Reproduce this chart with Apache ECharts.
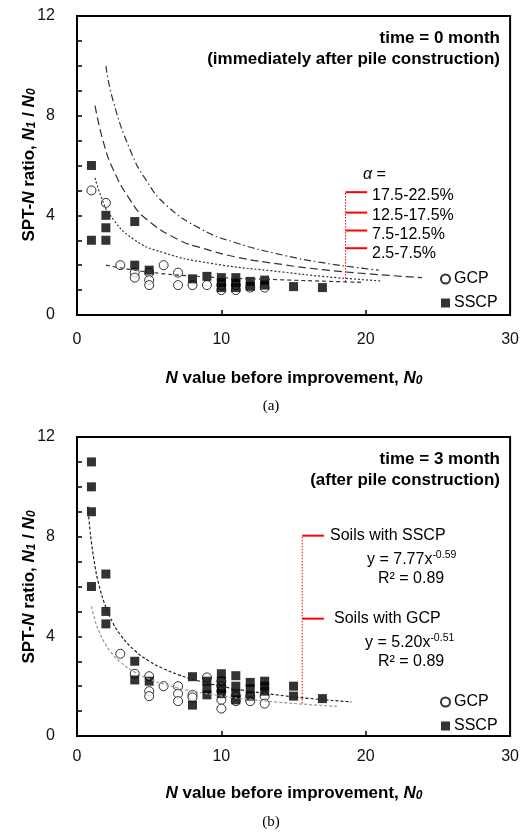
<!DOCTYPE html>
<html>
<head>
<meta charset="utf-8">
<script src="https://cdn.jsdelivr.net/npm/echarts@6/dist/echarts.min.js"></script>
<style>
  html, body { margin: 0; padding: 0; background: #fff; }
  #chart { width: 522px; height: 835px; }
</style>
</head>
<body>
<div id="chart"></div>
<script>
// ---- Panel (a): time = 0 month ----
const gcpA = [[1,5],[2,4.5],[3,2],[4,1.7],[4,1.5],[5,1.7],[5,1.4],[5,1.2],[6,2],[7,1.7],[7,1.2],
  [8,1.2],[9,1.2],[10,1.0],[10,1.2],[11,1.0],[11,1.2],[12,1.1],[13,1.1]];
const sscpA = [[1,6],[1,3],[2,4],[2,3.5],[2,3],[4,3.75],[4,2],[5,1.8],[8,1.45],[9,1.55],
  [10,1.5],[10,1.3],[10,1.1],[11,1.5],[11,1.3],[11,1.1],[12,1.35],[12,1.15],[13,1.4],[13,1.2],
  [15,1.14],[17,1.1]];
// improvement curves by replacement ratio alpha
const alphaBands = ['17.5-22.5%', '12.5-17.5%', '7.5-12.5%', '2.5-7.5%'];
const curve175 = [[2,10],[2.5,8.6],[3.7,6.6],[4.8,5.4],[6.2,4.4],[8.6,3.45],[11,2.9],[14.3,2.4],[17,2.1],[20,1.86],[20.9,1.8]];
const curve125 = [[1.25,8.4],[1.8,7.0],[2.5,5.85],[3.7,4.6],[4.8,3.85],[7.1,3.0],[8.6,2.7],[11,2.33],[14.3,2.02],[17,1.82],[20,1.66],[23.9,1.5]];
const curve75  = [[1.25,5.5],[1.7,4.7],[2.3,4.0],[3.9,3.05],[6,2.5],[9.2,2.08],[14.3,1.72],[17,1.55],[20,1.41],[21,1.37]];
const curve25  = [[2,2.0],[5,1.72],[9,1.53],[14.3,1.41],[19.8,1.31]];

// ---- Panel (b): time = 3 month ----
const gcpB = [[3,3.3],[4,2.5],[5,2.4],[5,1.8],[5,1.6],[6,2.0],[7,2.0],[7,1.7],[7,1.4],[8,1.65],[8,1.55],
  [9,2.35],[10,2.2],[10,2.0],[10,1.8],[10,1.45],[10,1.1],[11,1.6],[11,1.4],[12,1.6],[12,1.4],[13,1.6],[13,1.3]];
const sscpB = [[1,11],[1,10],[1,9],[1,6],[2,6.5],[2,5],[2,4.5],[4,3],[4,2.25],[5,2.2],[8,2.38],[8,1.24],
  [9,2.2],[9,1.9],[9,1.65],[10,2.5],[10,2.2],[10,1.9],[10,1.7],[11,2.42],[11,2.0],[11,1.7],[11,1.45],
  [12,2.15],[12,1.9],[12,1.6],[13,2.2],[13,2.0],[13,1.8],[15,2.0],[15,1.6],[17,1.5]];
// power-law fits y = a * x^b and their statistics
const fitSSCP = { a: 7.77, b: -0.59, r2: '0.89' };
const fitGCP  = { a: 5.20, b: -0.51, r2: '0.89' };
const fitXsSSCP = [0.75,0.9,1,1.25,1.5,2,2.5,3,4,5,6,7,8,10,12,14,16,19];
const fitXsGCP  = [1,1.25,1.5,2,2.5,3,4,5,6,7,8,10,12,14,16,18];

// ---- axis ticks ----
const yMax = 12, yLabelStep = 4, xMax = 30, xStep = 10;

const FONT = 'Liberation Sans, Arial, sans-serif';

function fitCurve(fit, xs) {
  return xs.map(x => [x, fit.a * Math.pow(x, fit.b)]);
}

function axes(gi, labelMargin) {
  const x = {
    type: 'value', gridIndex: gi, min: 0, max: xMax, interval: xStep,
    axisLine: { show: true, lineStyle: { color: '#000', width: 2 } },
    axisTick: { show: true, inside: true, length: 5, lineStyle: { color: '#000', width: 1.5 } },
    axisLabel: { fontFamily: FONT, fontSize: 16, color: '#111', margin: labelMargin },
    splitLine: { show: false }
  };
  const y = {
    type: 'value', gridIndex: gi, min: 0, max: yMax, interval: 1,
    axisLine: { show: true, lineStyle: { color: '#000', width: 2 } },
    axisTick: { show: true, inside: true, length: 5, lineStyle: { color: '#000', width: 1.5 } },
    axisLabel: { fontFamily: FONT, fontSize: 16, color: '#111', margin: 22,
      formatter: v => (v % yLabelStep === 0 ? String(v) : '') },
    splitLine: { show: false }
  };
  return [x, y];
}

function scatter(gi, name, data, hollow) {
  return {
    type: 'scatter', name, xAxisIndex: gi, yAxisIndex: gi, data,
    symbol: hollow ? 'circle' : 'rect', symbolSize: 9,
    itemStyle: hollow ? { color: '#fff', borderColor: '#000', borderWidth: 1 } : { color: '#000' },
    z: hollow ? 2 : 3, silent: true
  };
}

function curve(gi, data, color, dash, z) {
  return {
    type: 'line', xAxisIndex: gi, yAxisIndex: gi, data, smooth: 0.5,
    showSymbol: false, symbol: 'none', silent: true, z: z || 4,
    lineStyle: { color, width: 1.2, type: dash }
  };
}

function seg(gi, p0, p1, width, dash) {
  return {
    type: 'line', xAxisIndex: gi, yAxisIndex: gi, data: [p0, p1], showSymbol: false, symbol: 'none',
    silent: true, z: 5, lineStyle: { color: '#ff0000', width, type: dash }
  };
}

function text(x, y, str, extra) {
  return {
    type: 'text', x, y, silent: true,
    style: Object.assign({ text: str, fontFamily: FONT, fontSize: 16, fill: '#000',
      align: 'left', verticalAlign: 'middle' }, extra || {})
  };
}

const richAxis = {
  b: { fontFamily: FONT, fontSize: 17, fontWeight: 'bold', fill: '#000' },
  i: { fontFamily: FONT, fontSize: 17, fontWeight: 'bold', fontStyle: 'italic', fill: '#000' },
  s: { fontFamily: FONT, fontSize: 12, fontWeight: 'bold', fontStyle: 'italic', fill: '#000', verticalAlign: 'bottom' }
};
const yName = '{b|SPT-}{i|N}{b| ratio, }{i|N}{s|1}{b| / }{i|N}{s|0}';
const xName = '{i|N}{b| value before improvement, }{i|N}{s|0}';
const richEq = {
  n: { fontFamily: FONT, fontSize: 16, fill: '#000', lineHeight: 20 },
  p: { fontFamily: FONT, fontSize: 10.5, fill: '#000', verticalAlign: 'top', lineHeight: 20 }
};
function eqText(fit) {
  return '{n|y = ' + fit.a.toFixed(2) + 'x}{p|' + fit.b.toFixed(2) + '}';
}

const grids = [
  { left: 77, top: 16, width: 434, height: 299 },
  { left: 77, top: 437, width: 434, height: 299 }
].map(g => Object.assign({ show: true, borderColor: '#000', borderWidth: 2, backgroundColor: 'transparent' }, g));

const [xa0, ya0] = axes(0, 17);
const [xa1, ya1] = axes(1, 13);

function legendAt(top) {
  return {
    left: 440, top, orient: 'vertical', itemWidth: 9, itemHeight: 9, itemGap: 8, padding: 0,
    selectedMode: false,
    textStyle: { fontFamily: FONT, fontSize: 16, color: '#000', lineHeight: 16, padding: [0, 0, 0, -1] },
    data: ['GCP', 'SSCP']
  };
}

const option = {
  animation: false,
  backgroundColor: '#fff',
  grid: grids,
  xAxis: [xa0, xa1],
  yAxis: [ya0, ya1],
  legend: [legendAt(271), legendAt(694)],
  series: [
    scatter(0, 'GCP', gcpA, true),
    scatter(0, 'SSCP', sscpA, false),
    curve(0, curve175, '#333', [7, 3, 1.5, 3]),
    curve(0, curve125, '#333', [8, 4]),
    curve(0, curve75, '#333', [2, 2]),
    curve(0, curve25, '#333', [4, 3]),
    seg(0, [18.6, 1.34], [18.6, 4.93], 1, [1.5, 1.5]),
    seg(0, [18.6, 4.93], [20.1, 4.93], 2, 'solid'),
    seg(0, [18.6, 4.11], [20.1, 4.11], 2, 'solid'),
    seg(0, [18.6, 3.39], [20.1, 3.39], 2, 'solid'),
    seg(0, [18.6, 2.68], [20.1, 2.68], 2, 'solid'),

    scatter(1, 'GCP', gcpB, true),
    scatter(1, 'SSCP', sscpB, false),
    curve(1, fitCurve(fitSSCP, fitXsSSCP), '#222', [3, 2]),
    curve(1, fitCurve(fitGCP, fitXsGCP), '#999', [3, 2]),
    seg(1, [15.6, 1.31], [15.6, 8.04], 1, [1.5, 1.5]),
    seg(1, [15.6, 8.04], [17.1, 8.04], 2, 'solid'),
    seg(1, [15.6, 4.71], [17.1, 4.71], 2, 'solid')
  ],
  graphic: [
    // panel (a) titles
    text(500, 38, 'time = 0 month', { align: 'right', fontWeight: 'bold', fontSize: 17 }),
    text(500, 59, '(immediately after pile construction)', { align: 'right', fontWeight: 'bold', fontSize: 17 }),
    // alpha legend
    text(363, 175, '{a|α} =', { rich: { a: { fontFamily: FONT, fontSize: 16, fontStyle: 'italic', fill: '#000' } } }),
    text(372, 196, alphaBands[0]),
    text(372, 216, alphaBands[1]),
    text(372, 235, alphaBands[2]),
    text(372, 254, alphaBands[3]),
    // axis titles (a)
    { type: 'text', x: 29, y: 165, rotation: Math.PI / 2, silent: true,
      style: { text: yName, rich: richAxis, align: 'center', verticalAlign: 'middle' } },
    { type: 'text', x: 294, y: 378, silent: true,
      style: { text: xName, rich: richAxis, align: 'center', verticalAlign: 'middle' } },
    text(271, 406, '(a)', { align: 'center', fontFamily: 'Liberation Serif, Times New Roman, serif', fontSize: 15 }),

    // panel (b) titles
    text(500, 459, 'time = 3 month', { align: 'right', fontWeight: 'bold', fontSize: 17 }),
    text(500, 480, '(after pile construction)', { align: 'right', fontWeight: 'bold', fontSize: 17 }),
    // fit annotations
    text(330, 536, 'Soils with SSCP'),
    text(367, 560, eqText(fitSSCP), { rich: richEq }),
    text(378, 579, 'R² = ' + fitSSCP.r2),
    text(334, 619, 'Soils with GCP'),
    text(365, 643, eqText(fitGCP), { rich: richEq }),
    text(378, 662, 'R² = ' + fitGCP.r2),
    // axis titles (b)
    { type: 'text', x: 29, y: 587, rotation: Math.PI / 2, silent: true,
      style: { text: yName, rich: richAxis, align: 'center', verticalAlign: 'middle' } },
    { type: 'text', x: 294, y: 793, silent: true,
      style: { text: xName, rich: richAxis, align: 'center', verticalAlign: 'middle' } },
    text(271, 822, '(b)', { align: 'center', fontFamily: 'Liberation Serif, Times New Roman, serif', fontSize: 15 })
  ]
};

const chart = echarts.init(document.getElementById('chart'), null, { renderer: 'canvas' });
chart.setOption(option);
</script>
</body>
</html>
